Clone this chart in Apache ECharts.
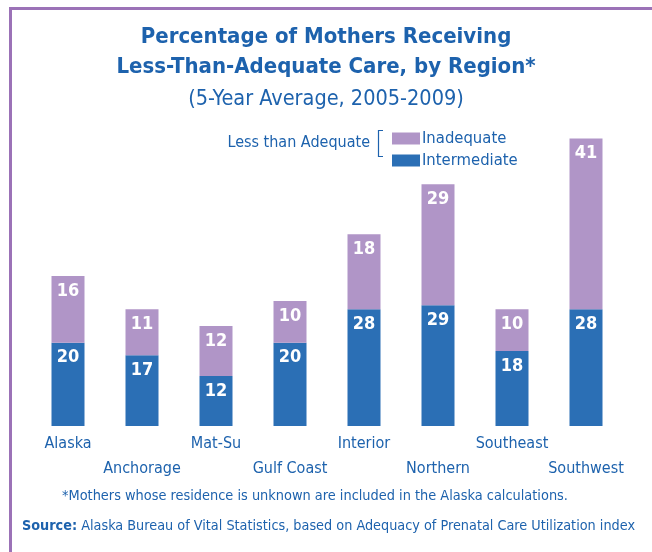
<!DOCTYPE html>
<html>
<head>
<meta charset="utf-8">
<script src="https://cdn.jsdelivr.net/npm/echarts@6/dist/echarts.min.js"></script>
<style>
  html, body { margin: 0; padding: 0; background: #fff; }
  #main { width: 652px; height: 552px; }
</style>
</head>
<body>
<div id="main"></div>
<script>
// regions and values (percent)
var categories = ['Alaska', 'Anchorage', 'Mat-Su', 'Gulf Coast', 'Interior', 'Northern', 'Southeast', 'Southwest'];
var intermediate = [20, 17, 12, 20, 28, 29, 18, 28];
var inadequate = [16, 11, 12, 10, 18, 29, 10, 41];

var FONT = "'Liberation Sans Narrow', 'DejaVu Sans Condensed', sans-serif";
var BLUE_TEXT = '#1d62ad';
var BLUE = '#2b6fb5';
var PURPLE = '#b095c7';

var chart = echarts.init(document.getElementById('main'));

var titleStyle = { color: BLUE_TEXT, fontFamily: FONT, fontSize: 22, fontWeight: 'bold' };

chart.setOption({
  backgroundColor: '#fff',
  animation: false,
  title: [{
    text: 'Percentage of Mothers Receiving',
    left: 'center', top: 21, textStyle: titleStyle
  }, {
    text: 'Less-Than-Adequate Care, by Region*',
    left: 'center', top: 51, textStyle: titleStyle
  }, {
    text: '(5-Year Average, 2005-2009)',
    left: 'center', top: 83,
    textStyle: { color: BLUE_TEXT, fontFamily: FONT, fontSize: 21.5, fontWeight: 'normal' }
  }],
  legend: {
    orient: 'vertical',
    left: 387,
    top: 125,
    itemWidth: 28,
    itemHeight: 12,
    itemGap: 5,
    icon: 'rect',
    data: ['Inadequate', 'Intermediate'],
    textStyle: { color: BLUE_TEXT, fontFamily: FONT, fontSize: 16.5, padding: [0, 0, 0, -3] }
  },
  grid: { left: 31, right: 29, top: 126, bottom: 126 },
  xAxis: {
    type: 'category',
    data: categories,
    axisLine: { show: false },
    axisTick: { show: false },
    axisLabel: {
      interval: 0,
      margin: 5,
      color: BLUE_TEXT,
      fontFamily: FONT,
      fontSize: 16,
      lineHeight: 25,
      formatter: function (v, i) { return i % 2 ? '\n' + v : v; }
    }
  },
  yAxis: {
    type: 'value',
    min: 0,
    max: 72,
    show: false,
    splitLine: { show: false }
  },
  series: [{
    name: 'Intermediate',
    type: 'bar',
    stack: 'care',
    barWidth: 33,
    data: intermediate,
    itemStyle: { color: BLUE },
    label: {
      show: true, position: 'insideTop', distance: 6,
      color: '#fff', fontFamily: FONT, fontSize: 18, fontWeight: 'bold'
    }
  }, {
    name: 'Inadequate',
    type: 'bar',
    stack: 'care',
    barWidth: 33,
    data: inadequate,
    itemStyle: { color: PURPLE },
    label: {
      show: true, position: 'insideTop', distance: 6,
      color: '#fff', fontFamily: FONT, fontSize: 18, fontWeight: 'bold'
    }
  }],
  graphic: [
    // frame
    { type: 'rect', shape: { x: 10.5, y: 8.5, width: 700, height: 600 },
      style: { fill: 'none', stroke: '#9b72b7', lineWidth: 3 }, silent: true },
    // legend caption and bracket
    { type: 'text', right: 282, top: 135,
      style: { text: 'Less than Adequate', fill: BLUE_TEXT, font: '16px ' + FONT } },
    { type: 'polyline', shape: { points: [[383, 130.5], [378.5, 130.5], [378.5, 156.5], [383, 156.5]] },
      style: { stroke: BLUE_TEXT, lineWidth: 1.2, fill: 'none' } },
    // notes
    { type: 'text', left: 62, top: 489,
      style: { text: '*Mothers whose residence is unknown are included in the Alaska calculations.', fill: BLUE_TEXT, font: '14.4px ' + FONT } },
    { type: 'text', left: 22, top: 519,
      style: {
        text: '{b|Source:} Alaska Bureau of Vital Statistics, based on Adequacy of Prenatal Care Utilization index',
        fill: BLUE_TEXT, font: '14.3px ' + FONT,
        rich: { b: { fontWeight: 'bold', fontFamily: FONT, fontSize: 14.3, fill: BLUE_TEXT } }
      } }
  ]
});
</script>
</body>
</html>
